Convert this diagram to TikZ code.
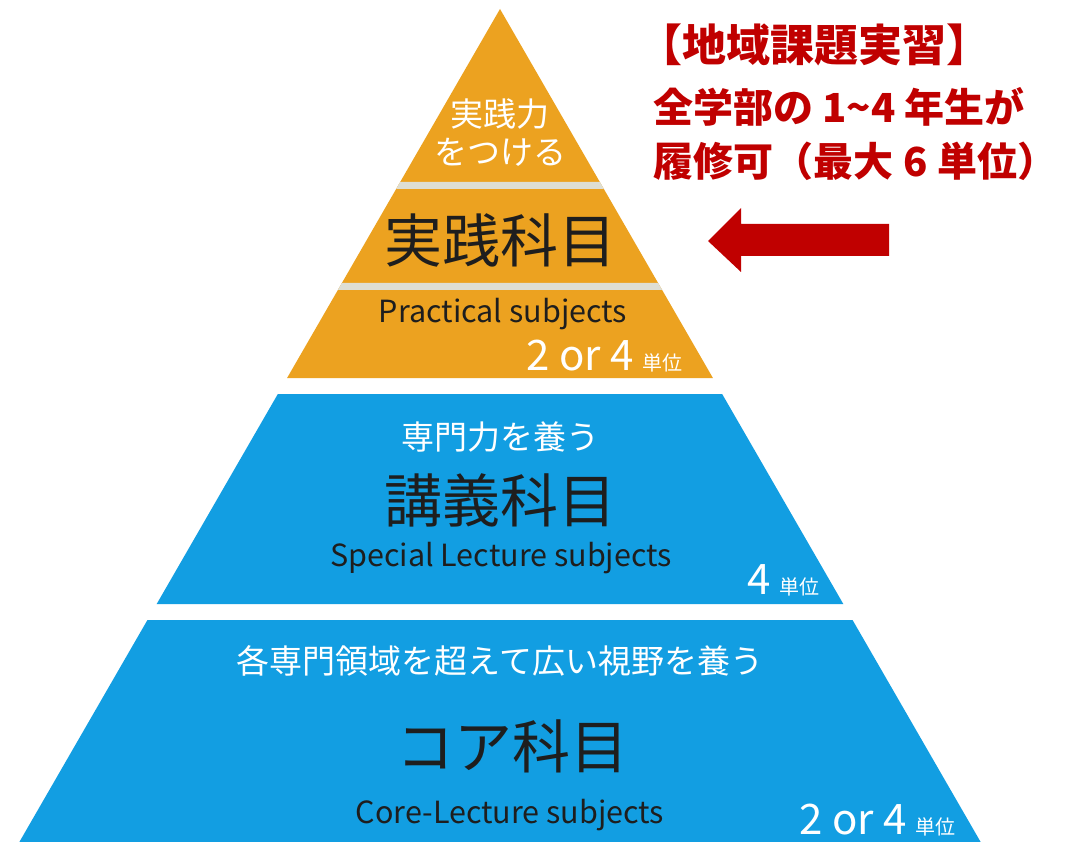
\documentclass[tikz,border=0pt]{standalone}
\usepackage{fontspec}
\setmainfont{Noto Sans CJK JP}
\definecolor{pyorange}{RGB}{236,162,32}
\definecolor{pygray}{RGB}{222,222,212}
\definecolor{pyblue}{RGB}{18,158,226}
\definecolor{pyink}{RGB}{30,30,30}
\definecolor{pyred}{RGB}{192,0,0}
\newcommand{\unitmark}{\hspace{9pt}{\fontsize{20}{20}\selectfont 単位}}
\tikzset{
  aim/.style={text=white, inner sep=0pt, align=center, font=\fontsize{33}{38}\selectfont},
  subj/.style={text=pyink, inner sep=0pt, font=\fontsize{58}{60}\selectfont},
  eng/.style={text=pyink, inner sep=0pt, font=\fontsize{30.5}{32}\selectfont},
  credit/.style={text=white, inner sep=0pt, anchor=base east, font=\fontsize{42}{42}\selectfont},
  note/.style={text=pyred, inner sep=0pt, anchor=west, font=\bfseries\fontsize{40}{40}\selectfont}
}
\begin{document}
\begin{tikzpicture}[x=1pt, y=-1pt]
  \fill[white] (0,0) rectangle (1076,842);
  \useasboundingbox (0,0) rectangle (1076,842);

  % pyramid bands
  \foreach \ya/\yb/\col in {9/378/pyorange, 182/189/pygray, 283/290/pygray, 394/604/pyblue, 620/842/pyblue}
    \fill[\col] ({500-(\ya-9)*0.577},\ya) -- ({500+(\ya-9)*0.577},\ya)
      -- ({500+(\yb-9)*0.577},\yb) -- ({500-(\yb-9)*0.577},\yb) -- cycle;

  % practical subjects
  \node[aim] (pracaim) at (500,133) {実践力\\をつける};
  \node[subj] (prac) at (500,240) {実践科目};
  \node[eng] (pracen) at (503,314) {Practical subjects};
  \node[credit] (praccr) at (683,370) {2 or 4\unitmark};

  % lecture subjects
  \node[aim] (lectaim) at (500,437) {専門力を養う};
  \node[subj] (lect) at (500,500) {講義科目};
  \node[eng] (lecten) at (501,558) {Special Lecture subjects};
  \node[credit] (lectcr) at (820,594) {4\unitmark};

  % core subjects
  \node[aim] (coreaim) at (500,661) {各専門領域を超えて広い視野を養う};
  \node[subj] (core) at (512,746) {コア科目};
  \node[eng] (coreen) at (510,815) {Core-Lecture subjects};
  \node[credit] (corecr) at (956,834) {2 or 4\unitmark};

  % regional practice note
  \node[note, font=\bfseries\fontsize{44}{44}\selectfont] (title) at (638,45) {【地域課題実習】};
  \node[note] (who) at (653,107) {全学部の 1\textasciitilde4 年生が};
  \node[note] (max) at (653,161) {履修可（最大\hspace{10pt}6\hspace{10pt}単位）};
  \fill[pyred] (708,241) -- (741,208) -- (741,224) -- (889,224)
    -- (889,256) -- (741,256) -- (741,272) -- cycle;
\end{tikzpicture}
\end{document}
